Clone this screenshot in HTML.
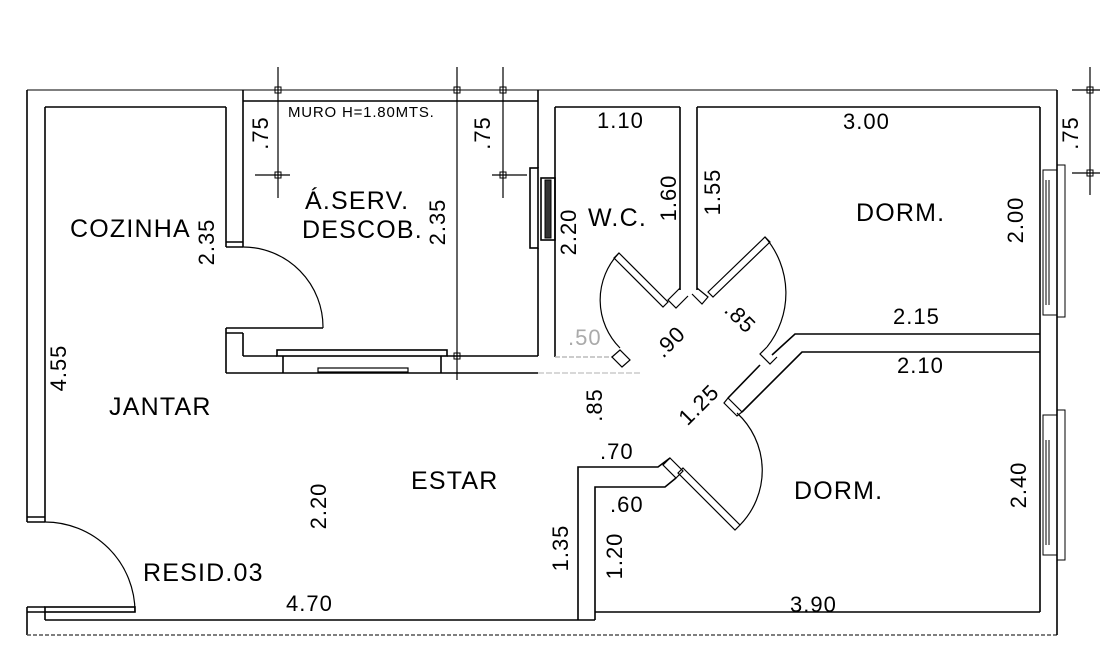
<!DOCTYPE html>
<html><head><meta charset="utf-8"><style>
html,body{margin:0;padding:0;background:#fff;}
svg{display:block;}
text{font-family:"Liberation Sans","DejaVu Sans",sans-serif;fill:#000;}
.r{font-size:25px;letter-spacing:1.2px;}
.d{font-size:22px;letter-spacing:1px;}
</style></head><body>
<svg width="1119" height="662" viewBox="0 0 1119 662" xmlns="http://www.w3.org/2000/svg">
<g fill="none" stroke="#000" stroke-width="1.6">
<line x1="27" y1="90" x2="1057" y2="90" stroke="#555"/>
<line x1="27" y1="90" x2="27" y2="522"/>
<line x1="45" y1="107" x2="45" y2="522"/>
<line x1="27" y1="517" x2="45" y2="517"/><line x1="27" y1="522" x2="45" y2="522"/>
<line x1="27" y1="607" x2="45" y2="607"/><line x1="27" y1="612" x2="45" y2="612"/>
<line x1="27" y1="607" x2="27" y2="635"/>
<rect x="45" y="607" width="90" height="5"/>
<path d="M45 522 A90 90 0 0 1 135 612" stroke-width="1.2"/>
<line x1="45" y1="612" x2="45" y2="620"/>
<line x1="45" y1="620" x2="578" y2="620"/>
<line x1="27" y1="635" x2="1057" y2="635" stroke-dasharray="4 2" stroke="#555"/>
<line x1="45" y1="107" x2="226" y2="107"/>
<line x1="226" y1="107" x2="226" y2="247"/>
<line x1="243" y1="90" x2="243" y2="247"/>
<line x1="226" y1="242" x2="243" y2="242"/><line x1="226" y1="247" x2="243" y2="247"/>
<path d="M243 247 A80 80 0 0 1 323 328" stroke-width="1.2"/>
<line x1="243" y1="328" x2="323" y2="328"/>
<line x1="226" y1="328" x2="243" y2="328"/><line x1="226" y1="333" x2="243" y2="333"/>
<line x1="226" y1="328" x2="226" y2="373"/>
<line x1="243" y1="333" x2="243" y2="356"/>
<line x1="243" y1="356" x2="277" y2="356"/>
<line x1="226" y1="373" x2="538" y2="373"/>
<rect x="277" y="350" width="170" height="6"/>
<line x1="283" y1="356" x2="283" y2="373"/><line x1="441" y1="356" x2="441" y2="373"/>
<rect x="318" y="368" width="90" height="4" stroke-width="1.2"/>
<line x1="447" y1="356" x2="538" y2="356"/>
<line x1="538" y1="373" x2="640" y2="373" stroke="#ccc" stroke-dasharray="6 2"/>
<line x1="243" y1="101" x2="538" y2="101"/>
<line x1="538" y1="90" x2="538" y2="168"/>
<rect x="530" y="168" width="8" height="80"/>
<rect x="541" y="178" width="14" height="62"/>
<rect x="545" y="180" width="6" height="58" fill="#333" stroke-width="1"/>
<line x1="538" y1="248" x2="538" y2="356"/>
<g stroke-width="1.2">
<line x1="278" y1="67" x2="278" y2="198"/>
<line x1="255" y1="175" x2="290" y2="175"/>
<line x1="457" y1="67" x2="457" y2="380"/>
<line x1="503" y1="67" x2="503" y2="198"/>
<line x1="492" y1="175" x2="527" y2="175"/>
<line x1="1090" y1="67" x2="1090" y2="195"/>
<line x1="1072" y1="90" x2="1100" y2="90"/>
<line x1="1072" y1="173" x2="1100" y2="173"/>
</g>
<g stroke-width="1">
<rect x="275" y="87" width="6" height="6"/><rect x="275" y="172" width="6" height="6"/>
<rect x="454" y="87" width="6" height="6"/><rect x="454" y="353" width="6" height="6"/>
<rect x="500" y="87" width="6" height="6"/><rect x="500" y="172" width="6" height="6"/>
<rect x="1087" y="87" width="6" height="6"/><rect x="1087" y="170" width="6" height="6"/>
</g>
<line x1="555" y1="107" x2="680" y2="107"/>
<line x1="555" y1="107" x2="555" y2="357"/>
<line x1="680" y1="107" x2="680" y2="290"/>
<line x1="697" y1="107" x2="697" y2="290"/>
<line x1="555" y1="357" x2="612" y2="357" stroke="#bbb" stroke-dasharray="5 2"/>
<path d="M612 357 L620 350 L630 360 L622 367 Z" stroke-width="1.2"/>
<path d="M680 288 L668 300 L676 308 L688 296" stroke-width="1.2"/>
<path d="M619 253 L668 302 L663 307 L614 258 Z" stroke-width="1.2"/>
<path d="M619 253 A68 68 0 0 0 620 348" stroke-width="1.2"/>
<line x1="697" y1="107" x2="1040" y2="107"/>
<line x1="1040" y1="107" x2="1040" y2="612"/>
<line x1="1057" y1="90" x2="1057" y2="635"/>
<path d="M697 288 L708 297 L702 304 L692 294" stroke-width="1.2"/>
<path d="M708 292 L765 237 L770 242 L713 297 Z" stroke-width="1.2"/>
<path d="M765 237 A86 86 0 0 1 767 347" stroke-width="1.2"/>
<path d="M767 347 L760 354 L770 364 L777 357" stroke-width="1.2"/>
<path d="M772 355 L795 334 L1040 334"/>
<path d="M760 365 L728 398"/>
<path d="M742 412 L802 352 L1040 352"/>
<path d="M728 398 L742 412 L737 416 L724 403 Z" stroke-width="1.2"/>
<rect x="1043" y="170" width="14" height="145" stroke-width="1"/>
<rect x="1057" y="165" width="8" height="152" stroke-width="1"/>
<rect x="1043" y="415" width="14" height="140" stroke-width="1"/>
<rect x="1057" y="410" width="8" height="150" stroke-width="1"/>
<path d="M1046 180 v125 M1049 180 v125 M1046 440 v105 M1049 440 v105" stroke-width="1"/>
<path d="M683 468 L740 525 L735 530 L678 473 Z" stroke-width="1.2"/>
<path d="M737 413 A78 78 0 0 1 740 525" stroke-width="1.2"/>
<path d="M670 458 L683 471 L676 478 L663 465 Z" stroke-width="1.2"/>
<path d="M578 620 L578 467 L658 467 L670 458"/>
<path d="M595 620 L595 487 L665 487 L676 478"/>
<line x1="595" y1="612" x2="1040" y2="612"/>
<line x1="578" y1="620" x2="595" y2="620"/>
</g>
<text class="r" x="70" y="237">COZINHA</text>
<text class="r" x="305" y="209">Á.SERV.</text>
<text class="r" x="302" y="238">DESCOB.</text>
<text class="r" x="588" y="226">W.C.</text>
<text class="r" x="856" y="221">DORM.</text>
<text class="r" x="109" y="415">JANTAR</text>
<text class="r" x="411" y="489">ESTAR</text>
<text class="r" x="794" y="499">DORM.</text>
<text class="r" x="143" y="581">RESID.03</text>
<text x="288" y="117" style="font-size:15px;letter-spacing:0.8px">MURO H=1.80MTS.</text>
<text class="d" x="597" y="128">1.10</text>
<text class="d" x="843" y="129">3.00</text>
<text class="d" x="893" y="324">2.15</text>
<text class="d" x="897" y="373">2.10</text>
<text class="d" x="286" y="611">4.70</text>
<text class="d" x="790" y="612">3.90</text>
<text class="d" x="600" y="459">.70</text>
<text class="d" x="610" y="512">.60</text>
<text class="d" x="568" y="345" style="fill:#aaa">.50</text>
<text class="d" transform="translate(268,133) rotate(-90)" text-anchor="middle">.75</text>
<text class="d" transform="translate(214,242) rotate(-90)" text-anchor="middle">2.35</text>
<text class="d" transform="translate(445,222) rotate(-90)" text-anchor="middle">2.35</text>
<text class="d" transform="translate(490,133) rotate(-90)" text-anchor="middle">.75</text>
<text class="d" transform="translate(576,232) rotate(-90)" text-anchor="middle">2.20</text>
<text class="d" transform="translate(676,198) rotate(-90)" text-anchor="middle">1.60</text>
<text class="d" transform="translate(720,192) rotate(-90)" text-anchor="middle">1.55</text>
<text class="d" transform="translate(1023,220) rotate(-90)" text-anchor="middle">2.00</text>
<text class="d" transform="translate(1078,133) rotate(-90)" text-anchor="middle">.75</text>
<text class="d" transform="translate(1026,485) rotate(-90)" text-anchor="middle">2.40</text>
<text class="d" transform="translate(66,368) rotate(-90)" text-anchor="middle">4.55</text>
<text class="d" transform="translate(326,506) rotate(-90)" text-anchor="middle">2.20</text>
<text class="d" transform="translate(568,548) rotate(-90)" text-anchor="middle">1.35</text>
<text class="d" transform="translate(622,556) rotate(-90)" text-anchor="middle">1.20</text>
<text class="d" transform="translate(602,405) rotate(-90)" text-anchor="middle">.85</text>
<text class="d" transform="translate(675,347) rotate(-45)" text-anchor="middle">.90</text>
<text class="d" transform="translate(704,410) rotate(-45)" text-anchor="middle">1.25</text>
<text class="d" transform="translate(735,323) rotate(45)" text-anchor="middle">.85</text>
</svg>
</body></html>
